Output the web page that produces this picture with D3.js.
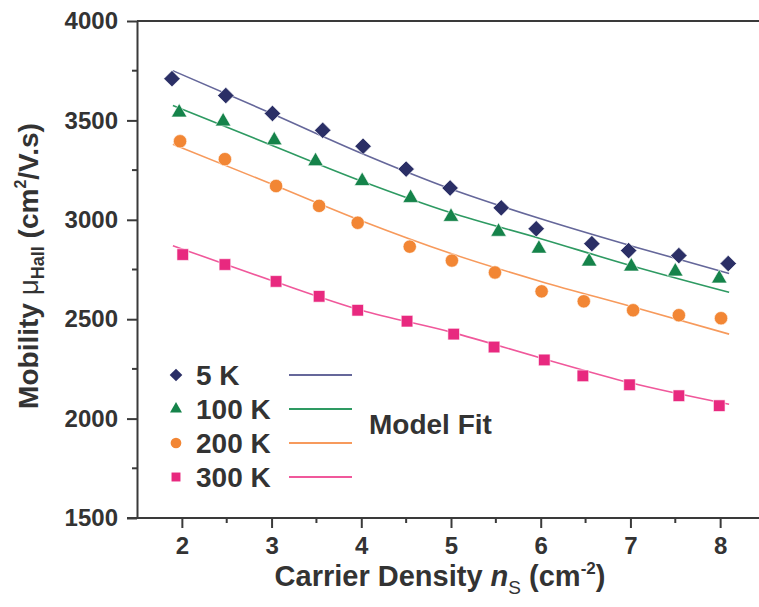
<!DOCTYPE html>
<html>
<head>
<meta charset="utf-8">
<script src="https://cdn.jsdelivr.net/npm/d3@7"></script>
<style>
  body { margin: 0; background: #fff; }
  svg { display: block; font-family: "Liberation Sans", Arial, sans-serif; }
</style>
</head>
<body>
<svg id="chart" width="759" height="607"></svg>
<script>
// measured data (carrier density, mobility)
const x5K = [1.89, 2.49, 3.01, 3.57, 4.02, 4.50, 4.99, 5.56, 5.95, 6.57, 6.98, 7.54, 8.09];
const y5K = [3710, 3625, 3535, 3450, 3370, 3255, 3160, 3060, 2955, 2880, 2845, 2820, 2780];
const x100K = [1.97, 2.46, 3.03, 3.49, 4.01, 4.55, 5.00, 5.53, 5.98, 6.54, 7.01, 7.50, 7.99];
const y100K = [3540, 3495, 3400, 3295, 3195, 3110, 3015, 2940, 2855, 2790, 2765, 2740, 2705];
const x200K = [1.98, 2.48, 3.05, 3.53, 3.96, 4.54, 5.01, 5.49, 6.01, 6.48, 7.03, 7.54, 8.01];
const y200K = [3395, 3305, 3170, 3070, 2985, 2865, 2795, 2735, 2640, 2590, 2545, 2520, 2505];
const x300K = [2.01, 2.48, 3.05, 3.53, 3.96, 4.51, 5.03, 5.48, 6.04, 6.47, 6.99, 7.54, 7.99];
const y300K = [2825, 2775, 2690, 2615, 2545, 2490, 2425, 2360, 2295, 2215, 2170, 2115, 2065];

// model fit curves
const fitX = [1.9, 3, 4, 5, 6, 7, 8.1];
const fit5K = [3750, 3535, 3335, 3155, 3005, 2870, 2730];
const fit100K = [3575, 3375, 3195, 3035, 2905, 2770, 2635];
const fit200K = [3380, 3180, 2995, 2830, 2690, 2565, 2425];
const fit300K = [2870, 2695, 2545, 2435, 2305, 2180, 2072];

const seriesNames = ["5 K", "100 K", "200 K", "300 K"];
const xTicks = [2, 3, 4, 5, 6, 7, 8];
const yTicks = [1500, 2000, 2500, 3000, 3500, 4000];

const series = [
    { name: seriesNames[0], xs: x5K, ys: y5K, fit: fit5K, color: "#2b2f66", lineColor: "#65679a", shape: "diamond" },
    { name: seriesNames[1], xs: x100K, ys: y100K, fit: fit100K, color: "#15834a", lineColor: "#2e9a62", shape: "triangle" },
    { name: seriesNames[2], xs: x200K, ys: y200K, fit: fit200K, color: "#f28634", lineColor: "#f79a5c", shape: "circle" },
    { name: seriesNames[3], xs: x300K, ys: y300K, fit: fit300K, color: "#e8297f", lineColor: "#f0589b", shape: "square" }
];

const svg = d3.select("#chart");
const axisColor = "#3a3a3a";
const textColor = "#333";

const plotLeft = 137, plotTop = 21, plotBottom = 518;

const xScale = d3.scaleLinear().domain([1.5, 8.5]).range([plotLeft, 765]);
const yScale = d3.scaleLinear().domain([1500, 4000]).range([plotBottom, plotTop]);

function symbolFor(shape, big) {
    if (shape === "diamond") return d3.symbol().type(d3.symbolSquare).size(big ? 135 : 80);
    if (shape === "triangle") return d3.symbol().type(d3.symbolTriangle).size(big ? 105 : 62);
    if (shape === "circle") return d3.symbol().type(d3.symbolCircle).size(big ? 140 : 90);
    return d3.symbol().type(d3.symbolSquare).size(big ? 135 : 80);
}

// frame top line
svg.append("line")
    .attr("x1", plotLeft).attr("x2", 759)
    .attr("y1", plotTop).attr("y2", plotTop)
    .style("stroke", axisColor).style("stroke-width", 2);

// y axis
const yAxis = svg.append("g")
    .attr("transform", `translate(${plotLeft},0)`)
    .call(d3.axisLeft(yScale).tickValues(yTicks).tickFormat(d3.format("d"))
        .tickSize(10).tickPadding(9).tickSizeOuter(0));
yAxis.select(".domain").style("stroke", axisColor).style("stroke-width", 2);
yAxis.selectAll(".tick line").style("stroke", axisColor).style("stroke-width", 2);
yAxis.selectAll(".tick text")
    .style("font-size", "24px").style("font-weight", "bold").style("fill", textColor);
yAxis.selectAll(".minor")
    .data([1750, 2250, 2750, 3250, 3750])
    .enter().append("line")
    .attr("x1", -5).attr("x2", 0)
    .attr("y1", d => yScale(d)).attr("y2", d => yScale(d))
    .style("stroke", axisColor).style("stroke-width", 2);

// x axis
const xAxis = svg.append("g")
    .attr("transform", `translate(0,${plotBottom})`)
    .call(d3.axisBottom(xScale).tickValues(xTicks).tickFormat(d3.format("d"))
        .tickSize(10).tickPadding(9).tickSizeOuter(0));
xAxis.select(".domain").attr("d", `M${plotLeft - 10},0H759`).style("stroke", axisColor).style("stroke-width", 2);
xAxis.selectAll(".tick line").style("stroke", axisColor).style("stroke-width", 2);
xAxis.selectAll(".tick text")
    .style("font-size", "24px").style("font-weight", "bold").style("fill", textColor);
xAxis.selectAll(".minor")
    .data([2.5, 3.5, 4.5, 5.5, 6.5, 7.5])
    .enter().append("line")
    .attr("x1", d => xScale(d)).attr("x2", d => xScale(d))
    .attr("y1", 0).attr("y2", 5)
    .style("stroke", axisColor).style("stroke-width", 2);

// fit curves
const line = d3.line()
    .x((d, i) => xScale(fitX[i]))
    .y(d => yScale(d))
    .curve(d3.curveMonotoneX);

series.forEach(s => {
    svg.append("path")
        .datum(s.fit)
        .attr("d", line)
        .style("fill", "none")
        .style("stroke", s.lineColor)
        .style("stroke-width", 1.6);
});

// data points
series.forEach(s => {
    const sym = symbolFor(s.shape, true);
    svg.append("g").selectAll("path")
        .data(s.xs.map((x, i) => ({ x: x, y: s.ys[i] })))
        .enter().append("path")
        .attr("d", sym)
        .attr("transform", d => `translate(${xScale(d.x)},${yScale(d.y)})` + (s.shape === "diamond" ? " rotate(45)" : ""))
        .style("fill", s.color)
        .style("stroke", "#fff")
        .style("stroke-width", 0.6);
});

// legend
const legend = svg.append("g");
series.forEach((s, i) => {
    const cy = 375 + i * 34;
    legend.append("path")
        .attr("d", symbolFor(s.shape, false))
        .attr("transform", `translate(176,${cy})` + (s.shape === "diamond" ? " rotate(45)" : ""))
        .style("fill", s.color);
    legend.append("text")
        .attr("x", 196).attr("y", cy + 10)
        .text(s.name)
        .style("font-size", "28px").style("font-weight", "bold").style("fill", textColor);
    legend.append("line")
        .attr("x1", 289).attr("x2", 352)
        .attr("y1", cy).attr("y2", cy)
        .style("stroke", s.lineColor).style("stroke-width", 2);
});
legend.append("text")
    .attr("x", 369).attr("y", 434)
    .text("Model Fit")
    .style("font-size", "28px").style("font-weight", "bold").style("fill", textColor);

// axis titles
const yTitle = svg.append("text")
    .attr("transform", "translate(38,266) rotate(-90)")
    .attr("text-anchor", "middle")
    .style("font-size", "28px").style("font-weight", "bold").style("fill", textColor);
yTitle.append("tspan").text("Mobility ");
yTitle.append("tspan").text("μ").style("font-weight", "normal");
yTitle.append("tspan").text("Hall").attr("dy", 6).style("font-size", "18px");
yTitle.append("tspan").text(" (cm").attr("dy", -6);
yTitle.append("tspan").text("2").attr("dy", -12).style("font-size", "16px");
yTitle.append("tspan").text("/V.s)").attr("dy", 12);

const xTitle = svg.append("text")
    .attr("x", 440).attr("y", 586)
    .attr("text-anchor", "middle")
    .style("font-size", "29px").style("font-weight", "bold").style("fill", textColor);
xTitle.append("tspan").text("Carrier Density ");
xTitle.append("tspan").text("n").style("font-style", "italic");
xTitle.append("tspan").text("S").attr("dy", 8).style("font-size", "19px").style("font-weight", "normal");
xTitle.append("tspan").text(" (cm").attr("dy", -8);
xTitle.append("tspan").text("-2").attr("dy", -12).style("font-size", "17px");
xTitle.append("tspan").text(")").attr("dy", 12);
</script>
</body>
</html>
